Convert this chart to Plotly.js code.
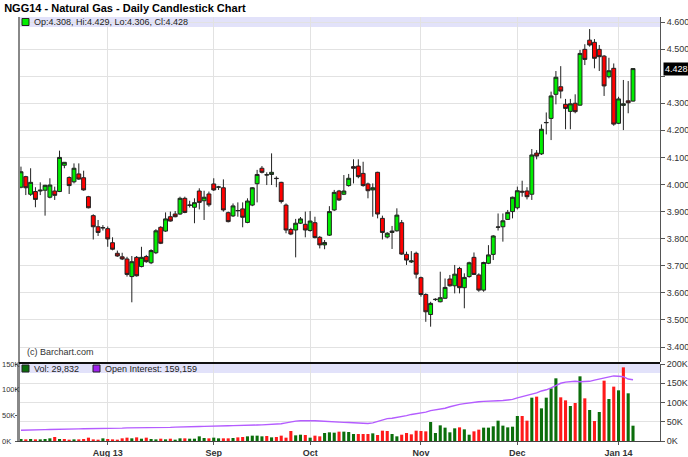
<!DOCTYPE html>
<html><head><meta charset="utf-8">
<script src="https://cdn.plot.ly/plotly-3.0.1.min.js"></script>
<style>html,body{margin:0;padding:0;background:#fff}#chart{width:688px;height:457px}</style>
</head><body><div id="chart"></div>
<script>
const dates = [
'2013-07-08','2013-07-09','2013-07-10','2013-07-11','2013-07-12','2013-07-15','2013-07-16','2013-07-17','2013-07-18','2013-07-19',
'2013-07-22','2013-07-23','2013-07-24','2013-07-25','2013-07-26','2013-07-29','2013-07-30','2013-07-31',
'2013-08-01','2013-08-02','2013-08-05','2013-08-06','2013-08-07','2013-08-08','2013-08-09','2013-08-12','2013-08-13','2013-08-14',
'2013-08-15','2013-08-16','2013-08-19','2013-08-20','2013-08-21','2013-08-22','2013-08-23','2013-08-26','2013-08-27','2013-08-28',
'2013-08-29','2013-08-30',
'2013-09-03','2013-09-04','2013-09-05','2013-09-06','2013-09-09','2013-09-10','2013-09-11','2013-09-12','2013-09-13','2013-09-16',
'2013-09-17','2013-09-18','2013-09-19','2013-09-20','2013-09-23','2013-09-24','2013-09-25','2013-09-26','2013-09-27','2013-09-30',
'2013-10-01','2013-10-02','2013-10-03','2013-10-04','2013-10-07','2013-10-08','2013-10-09','2013-10-10','2013-10-11','2013-10-14',
'2013-10-15','2013-10-16','2013-10-17','2013-10-18','2013-10-21','2013-10-22','2013-10-23','2013-10-24','2013-10-25','2013-10-28',
'2013-10-29','2013-10-30','2013-10-31',
'2013-11-01','2013-11-04','2013-11-05','2013-11-06','2013-11-07','2013-11-08','2013-11-11','2013-11-12','2013-11-13','2013-11-14',
'2013-11-15','2013-11-18','2013-11-19','2013-11-20','2013-11-21','2013-11-22','2013-11-25','2013-11-26','2013-11-27','2013-11-29',
'2013-12-02','2013-12-03','2013-12-04','2013-12-05','2013-12-06','2013-12-09','2013-12-10','2013-12-11','2013-12-12','2013-12-13',
'2013-12-16','2013-12-17','2013-12-18','2013-12-19','2013-12-20','2013-12-23','2013-12-24','2013-12-26','2013-12-27','2013-12-30',
'2013-12-31',
'2014-01-02','2014-01-03','2014-01-06','2014-01-07'];

const openP = [
3.990,4.029,3.964,3.974,3.976,3.979,3.953,3.976,3.974,4.071,4.026,4.010,4.039,4.025,3.955,3.885,3.844,3.841,
3.837,3.785,3.746,3.733,3.725,3.660,3.731,3.697,3.734,3.711,3.748,3.842,3.828,3.881,3.891,3.891,3.949,3.923,3.916,3.976,3.940,3.965,
4.002,3.990,3.988,3.896,3.884,3.903,3.910,3.860,3.924,4.003,4.060,4.035,4.037,4.023,4.008,3.924,3.834,3.832,3.857,3.853,
3.830,3.859,3.805,3.777,3.813,3.906,3.976,3.964,3.996,4.066,4.068,4.041,4.002,3.980,4.045,3.875,3.806,3.823,3.829,3.859,3.742,3.714,3.746,
3.656,3.594,3.520,3.575,3.567,3.580,3.651,3.626,3.690,3.619,3.660,3.731,3.666,3.610,3.709,3.742,3.842,3.844,3.871,3.900,
3.914,3.975,3.976,3.964,4.116,4.113,4.228,4.244,4.333,4.361,4.296,4.270,4.300,4.293,4.499,4.533,4.525,4.499,4.474,4.398,4.429,
4.226,4.292,4.309,4.308];
const highP = [
4.066,4.032,4.060,3.990,4.008,3.999,4.023,3.992,4.125,4.083,4.030,4.078,4.078,4.051,3.958,3.890,3.869,3.850,
3.845,3.805,3.756,3.748,3.733,3.736,3.736,3.770,3.740,3.761,3.835,3.846,3.897,3.900,3.902,3.955,3.955,3.940,3.949,3.986,3.977,3.974,
4.023,3.995,4.019,3.900,3.930,3.934,3.934,3.949,3.990,4.054,4.068,4.045,4.115,4.030,4.010,3.930,3.840,3.873,3.880,3.900,
3.902,3.881,3.810,3.795,3.920,3.980,3.980,4.035,4.039,4.093,4.093,4.084,4.007,4.004,4.047,3.885,3.824,3.847,3.912,3.869,3.752,3.754,3.752,
3.660,3.598,3.567,3.580,3.678,3.653,3.666,3.703,3.696,3.672,3.715,3.749,3.672,3.715,3.776,3.813,3.893,3.893,3.906,3.955,
3.992,4.014,3.990,4.131,4.127,4.222,4.266,4.343,4.419,4.437,4.316,4.316,4.333,4.497,4.518,4.574,4.537,4.515,4.478,4.468,4.447,
4.324,4.386,4.382,4.429];
const lowP = [
3.986,3.961,3.958,3.916,3.961,3.885,3.949,3.943,3.972,4.060,3.965,4.004,4.017,3.977,3.912,3.797,3.810,3.830,
3.770,3.757,3.733,3.721,3.660,3.565,3.660,3.694,3.711,3.706,3.743,3.780,3.825,3.863,3.879,3.888,3.894,3.915,3.857,3.908,3.869,3.918,
3.976,3.980,3.900,3.860,3.880,3.881,3.842,3.857,3.920,3.934,4.041,3.998,3.998,3.990,3.930,3.820,3.813,3.731,3.854,3.805,
3.826,3.801,3.764,3.761,3.810,3.902,3.939,3.961,3.992,4.004,4.023,3.992,3.949,3.881,3.875,3.797,3.801,3.762,3.826,3.740,3.703,3.710,3.653,
3.586,3.493,3.475,3.570,3.565,3.577,3.623,3.598,3.598,3.543,3.656,3.666,3.604,3.604,3.706,3.721,3.830,3.789,3.869,3.875,
3.908,3.955,3.945,3.943,4.093,4.109,4.185,4.164,4.296,4.318,4.204,4.204,4.263,4.291,4.441,4.509,4.429,4.419,4.327,4.392,4.217,
4.223,4.201,4.263,4.306];
const closeP = [
4.047,3.988,4.008,3.945,3.979,3.997,3.998,3.960,4.100,4.082,3.996,4.060,4.020,3.980,3.914,3.844,3.823,3.840,
3.799,3.761,3.736,3.725,3.668,3.715,3.663,3.731,3.715,3.756,3.829,3.783,3.873,3.865,3.881,3.949,3.897,3.924,3.933,3.934,3.953,3.925,
3.980,3.991,3.906,3.863,3.921,3.904,3.879,3.939,3.988,4.037,4.045,4.036,4.045,4.022,3.937,3.832,3.817,3.857,3.873,3.832,
3.865,3.804,3.777,3.786,3.900,3.971,3.943,3.976,4.023,4.060,4.029,3.996,3.977,3.988,3.891,3.823,3.820,3.828,3.887,3.743,3.721,3.718,3.669,
3.594,3.530,3.561,3.576,3.582,3.620,3.626,3.669,3.619,3.657,3.711,3.668,3.610,3.712,3.740,3.810,3.843,3.866,3.897,3.953,
3.977,3.972,3.955,4.109,4.105,4.204,4.229,4.327,4.396,4.345,4.281,4.298,4.269,4.484,4.462,4.515,4.466,4.472,4.364,4.420,4.223,
4.316,4.298,4.302,4.428];

// volume and open interest, in thousands of contracts
const volumeK = [
3.9,3.2,3.9,3.2,3.2,3.9,5.2,7.8,3.9,3.9,2.6,3.2,3.2,3.9,6.5,3.2,2.6,5.2,
3.9,3.2,2.6,5.2,6.5,5.2,7.1,4.5,6.5,3.9,3.2,4.5,3.2,4.5,2.6,5.2,5.2,4.5,4.5,9.1,5.8,5.2,
6.5,5.2,5.2,5.2,5.8,7.1,7.8,9.1,10.4,10.4,9.1,9.7,7.1,7.8,10.4,6.5,19.5,11.0,12.3,11.7,
6.5,10.4,9.1,15.6,16.9,16.2,18.2,18.2,17.5,13.6,13.6,13.6,13.6,14.9,11.7,20.1,19.5,13.6,9.1,12.3,15.6,13.0,20.1,
19.5,18.8,37.0,15.6,30.5,26.0,16.9,24.7,26.6,22.7,12.3,18.8,22.1,26.0,26.0,28.6,39.6,29.9,26.6,27.9,
48.7,48.7,39.6,84.4,86.4,63.6,84.4,102.6,122.1,85.1,79.2,68.2,74.0,126.0,83.1,60.4,39.0,56.5,117.5,81.8,105.9,
98.7,143.5,92.9,29.832];
const openInterestK = [
28,28,28.5,29,29,29.5,30,30,30.5,31,31,31.5,31.5,32,32,32.5,32.5,33,
33,33,33.5,33.5,34,34,34,34.5,34,34,34.5,35,35,35.5,36,36,36.5,37,37,37.5,38,38,
38.5,39,39,39.5,40,40,40.5,41,41,41.5,42,42.5,43,43.5,45,47,49.5,51.5,52.5,53,
53,52.5,52,51,50,49.5,48.5,48.5,48,47,46,45,45.5,47,51,56,58,59,61,63,66,69,71,
73,75,79,81,83,85,89,93,95,97,99,101,102,103,104,104,104.5,105,106,108,
112,115,118,121,125,130,133,138,145,150,153,154,155,154,154,155,158,161,165,168,169,
168,167,161,159.159];

const tickDates = ['2013-08-01','2013-09-03','2013-10-01','2013-11-01','2013-12-02','2014-01-02'];
const tickLabels = ['Aug 13','Sep','Oct','Nov','Dec','Jan 14'];
const priceTicks = [3.4,3.5,3.6,3.7,3.8,3.9,4.0,4.1,4.2,4.3,4.4,4.5,4.6];
const volTicks = [0,50,100,150];
const oiTicks = [0,50,100,150,200];

const lastClose = closeP[closeP.length-1];
const volColors = closeP.map((c,i)=> (i===0 ? c>=openP[0] : c>=closeP[i-1]) ? '#0b6e0b' : '#ff1a1a');

const FONT = 'Liberation Sans, Arial, sans-serif';
const px = x => (x-19)/641;      // paper x from pixel
const py = y => (441-y)/424;     // paper y from pixel

const traces = [
  {type:'candlestick', x:dates, open:openP, high:highP, low:lowP, close:closeP,
   xaxis:'x', yaxis:'y', whiskerwidth:0, hoverinfo:'skip',
   increasing:{line:{color:'#222', width:1}, fillcolor:'#00ee00'},
   decreasing:{line:{color:'#222', width:1}, fillcolor:'#ff0000'}},
  {type:'bar', x:dates, y:volumeK, xaxis:'x2', yaxis:'y2', marker:{color:volColors, line:{width:0}}, hoverinfo:'skip'},
  {type:'scatter', mode:'lines', x:dates, y:openInterestK, xaxis:'x2', yaxis:'y3',
   line:{color:'#b45cff', width:1.4}, hoverinfo:'skip'}
];

// price tick labels: the 4.400 label is covered by the last-price box in the source chart
const priceText = priceTicks.map(v => Math.abs(v-4.4) < 1e-9 ? '' : v.toFixed(3));

const xrange = [-0.41, 132.6];
const volLabelAnns = volTicks.map(v => ({xref:'paper', yref:'y2', x:px(0), y:v, xanchor:'left', yanchor:'middle',
   showarrow:false, text:v+'K', font:{size:7.5, color:'#333'}}));

const layout = {
  width:688, height:457, paper_bgcolor:'#fff', plot_bgcolor:'#fff',
  margin:{l:19, r:28, t:17, b:16}, showlegend:false, bargap:0.36, boxgap:0.1, boxgroupgap:0.1,
  font:{family:FONT, size:9, color:'#333'},
  title:{text:'<b>NGG14 - Natural Gas - Daily Candlestick Chart</b>', xref:'container', yref:'container',
         x:0.006, xanchor:'left', y:1-8/457, yanchor:'middle', font:{family:FONT, size:11, color:'#000'}},
  xaxis:{type:'category', domain:[0,1], anchor:'y', range:xrange, rangeslider:{visible:false},
         tickvals:tickDates, showticklabels:false, ticks:'', showgrid:true, gridcolor:'#e2e2e2', gridwidth:1,
         showline:false, zeroline:false, fixedrange:true},
  yaxis:{domain:[py(362),1], range:[3.3446,4.6185], side:'right', anchor:'x',
         tickvals:priceTicks, ticktext:priceText, ticks:'outside', ticklen:4, tickcolor:'#555',
         showgrid:true, gridcolor:'#e2e2e2', showline:true, linecolor:'#555', linewidth:1, zeroline:false,
         tickfont:{size:9, color:'#333'}},
  xaxis2:{type:'category', domain:[0,1], anchor:'y2', range:xrange, matches:'x',
          tickvals:tickDates, ticktext:tickLabels.map(t=>'<b>'+t+'</b>'), ticks:'outside', ticklen:3, tickcolor:'#555',
          showgrid:true, gridcolor:'#e2e2e2', showline:true, linecolor:'#444', linewidth:1, zeroline:false,
          tickfont:{size:9, color:'#333'}},
  yaxis2:{domain:[0,py(364)], range:[0,150], side:'left', anchor:'x2',
          tickvals:volTicks, showticklabels:false, ticks:'outside', ticklen:2, tickcolor:'#555',
          showgrid:false, showline:true, linecolor:'#888', linewidth:2, zeroline:false},
  yaxis3:{overlaying:'y2', range:[0,200], side:'right', anchor:'x2',
          tickvals:oiTicks, ticktext:oiTicks.map(v=>v+'K'), ticks:'outside', ticklen:4, tickcolor:'#555',
          showgrid:true, gridcolor:'#e2e2e2', showline:true, linecolor:'#555', linewidth:1, zeroline:false,
          tickfont:{size:9,color:'#333'}},
  shapes:[
    {type:'rect', xref:'paper', yref:'paper', x0:0, x1:1, y0:py(27), y1:1, fillcolor:'#e2e2fa', line:{width:0}, layer:'below'},
    {type:'rect', xref:'paper', yref:'paper', x0:0, x1:1, y0:py(373), y1:py(364), fillcolor:'#e2e2fa', line:{width:0}, layer:'below'},
    {type:'line', xref:'paper', yref:'paper', x0:0, x1:0, y0:0, y1:1, line:{color:'#888', width:2}},
    {type:'line', xref:'paper', yref:'paper', x0:0, x1:1, y0:py(363), y1:py(363), line:{color:'#111', width:2}},
    {type:'rect', xref:'paper', yref:'paper', x0:px(22), x1:px(29), y0:py(25.5), y1:py(18.5), fillcolor:'#00ee00', line:{color:'#222', width:1}},
    {type:'rect', xref:'paper', yref:'paper', x0:px(22), x1:px(29), y0:py(372), y1:py(365), fillcolor:'#0b6e0b', line:{color:'#222', width:1}},
    {type:'rect', xref:'paper', yref:'paper', x0:px(93), x1:px(100), y0:py(372), y1:py(365), fillcolor:'#a020f0', line:{color:'#222', width:1}}
  ],
  annotations:[
    {xref:'paper', yref:'paper', x:px(32), y:py(22), xanchor:'left', yanchor:'middle', showarrow:false,
     text:'Op:'+openP[openP.length-1].toFixed(3)+', Hi:'+highP[highP.length-1].toFixed(3)+', Lo:'+lowP[lowP.length-1].toFixed(3)+', Cl:'+lastClose.toFixed(3),
     font:{size:9, color:'#222'}},
    {xref:'paper', yref:'paper', x:px(32), y:py(368.5), xanchor:'left', yanchor:'middle', showarrow:false,
     text:'Vol: '+Math.round(volumeK[volumeK.length-1]*1000).toLocaleString('en-US'), font:{size:9, color:'#222'}},
    {xref:'paper', yref:'paper', x:px(103), y:py(368.5), xanchor:'left', yanchor:'middle', showarrow:false,
     text:'Open Interest: '+Math.round(openInterestK[openInterestK.length-1]*1000).toLocaleString('en-US'), font:{size:9, color:'#222'}},
    {xref:'paper', yref:'paper', x:px(25), y:py(352), xanchor:'left', yanchor:'middle', showarrow:false,
     text:'(c) Barchart.com', font:{size:9, color:'#333'}},
    {xref:'paper', yref:'y', x:1, y:lastClose, xanchor:'left', yanchor:'middle', xshift:3, showarrow:false,
     text:lastClose.toFixed(3), bgcolor:'#000', borderpad:1, font:{size:9, color:'#fff'}}
  ].concat(volLabelAnns)
};

Plotly.newPlot('chart', traces, layout, {staticPlot:true, displayModeBar:false});
</script>
</body></html>
